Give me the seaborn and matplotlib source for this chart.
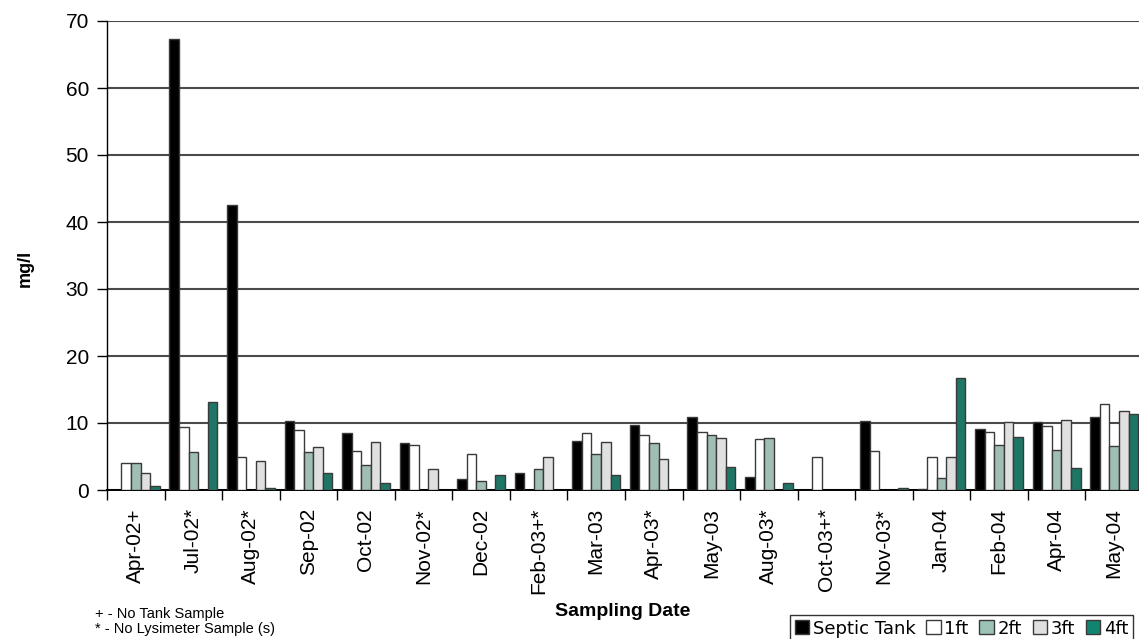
import numpy as np
import pandas as pd
import seaborn as sns
import matplotlib
matplotlib.use("Agg")
import matplotlib.pyplot as plt
from matplotlib.patches import Patch
from matplotlib.ticker import FixedLocator, MultipleLocator

# Sampling dates (+ = no tank sample, * = no lysimeter sample)
dates = ["Apr-02+", "Jul-02*", "Aug-02*", "Sep-02", "Oct-02", "Nov-02*",
         "Dec-02", "Feb-03+*", "Mar-03", "Apr-03*", "May-03", "Aug-03*",
         "Oct-03+*", "Nov-03*", "Jan-04", "Feb-04", "Apr-04", "May-04"]

nan = np.nan
# Concentrations in mg/l for each sampling point
septic_tank = [nan, 67.3, 42.5, 10.3, 8.5, 7.0, 1.6, 2.5, 7.3, 9.7, 10.9, 1.9,
               nan, 10.3, 0.1, 9.1, 10.1, 10.9]
ft1 = [4.1, 9.4, 4.9, 9.0, 5.8, 6.7, 5.3, nan, 8.5, 8.2, 8.6, 7.6,
       5.0, 5.8, 5.0, 8.6, 9.6, 12.9]
ft2 = [4.1, 5.6, nan, 5.6, 3.8, nan, 1.4, 3.2, 5.4, 7.0, 8.2, 7.8,
       nan, nan, 1.8, 6.7, 5.9, 6.5]
ft3 = [2.6, nan, 4.4, 6.4, 7.1, 3.2, nan, 5.0, 7.1, 4.6, 7.8, nan,
       nan, nan, 5.0, 10.1, 10.4, 11.8]
ft4 = [0.6, 13.1, 0.25, 2.6, 1.0, nan, 2.2, nan, 2.2, nan, 3.4, 1.0,
       nan, 0.25, 16.7, 7.9, 3.3, 11.4]

series_names = ["Septic Tank", "1ft", "2ft", "3ft", "4ft"]
series_values = [septic_tank, ft1, ft2, ft3, ft4]
series_colors = ["#000000", "#ffffff", "#9cc3b6", "#e0e0e0", "#11846f"]

rows = []
for name, vals in zip(series_names, series_values):
    for d, v in zip(dates, vals):
        rows.append({"date": d, "series": name, "value": v})
df = pd.DataFrame(rows).dropna()

sns.set_theme(style="white")
plt.rcParams["font.family"] = ["Liberation Sans", "DejaVu Sans"]
plt.rcParams.update({"text.color": "black", "axes.labelcolor": "black",
                     "xtick.color": "black", "ytick.color": "black"})

fig = plt.figure(figsize=(11.39, 6.39), dpi=100)
W, H = 1139, 639
left, right, top, bottom = 107, 1143, 21, 490
ax = fig.add_axes([left / W, 1 - bottom / H, (right - left) / W, (bottom - top) / H])

sns.barplot(data=df, x="date", y="value", hue="series", order=dates,
            hue_order=series_names, palette=dict(zip(series_names, series_colors)),
            width=0.83, errorbar=None, edgecolor="#3a3a3a", linewidth=1.0,
            legend=False, ax=ax, zorder=3)

ax.set_xlim(-0.5, len(dates) - 0.5)
ax.set_ylim(0, 70)
ax.yaxis.set_major_locator(MultipleLocator(10))
ax.grid(axis="y", color="#4a4a4a", linewidth=1.5, zorder=0)
ax.grid(axis="x", visible=False)
ax.set_axisbelow(True)

for s in ["top", "right"]:
    ax.spines[s].set_visible(False)
ax.spines["left"].set_color("black")
ax.spines["left"].set_linewidth(1.0)
ax.spines["bottom"].set_color("black")
ax.spines["bottom"].set_linewidth(1.4)

ax.tick_params(axis="y", which="major", direction="out", length=7, width=1.0,
               color="black", labelcolor="black", pad=6, labelsize=15, left=True)
ax.xaxis.set_minor_locator(FixedLocator(np.arange(-0.5, len(dates), 1.0)))
ax.tick_params(axis="x", which="minor", direction="out", length=7, width=1.0,
               color="black", bottom=True)
ax.tick_params(axis="x", which="major", length=0, pad=13, labelsize=15,
               labelcolor="black")
ax.set_xticks(range(len(dates)))
ax.set_xticklabels(dates, rotation=90, va="top", ha="center")
ax.set_xlabel("")
ax.set_ylabel("")

fig.text(25 / W, 1 - 268 / H, "mg/l", rotation=90, fontsize=13,
         fontweight="bold", ha="center", va="center")
fig.text(623 / W, 1 - 611 / H, "Sampling Date", fontsize=14,
         fontweight="bold", ha="center", va="center")
fig.text(95 / W, 1 - 614 / H, "+ - No Tank Sample", fontsize=10.5,
         ha="left", va="center")
fig.text(95 / W, 1 - 629 / H, "* - No Lysimeter Sample (s)", fontsize=10.5,
         ha="left", va="center")

handles = [Patch(facecolor=c, edgecolor="#3a3a3a", linewidth=1.0)
           for c in series_colors]
leg = fig.legend(handles, series_names, loc="upper left",
                 bbox_to_anchor=(790 / W, 1 - 615 / H), bbox_transform=fig.transFigure,
                 ncol=5, frameon=True, fancybox=False, edgecolor="black",
                 borderaxespad=0, borderpad=0.25, handlelength=0.8,
                 handleheight=0.8, handletextpad=0.2, columnspacing=0.6,
                 prop={"family": "DejaVu Sans", "size": 13})
leg.get_frame().set_linewidth(1.0)

fig.savefig("out.png", dpi=100)
